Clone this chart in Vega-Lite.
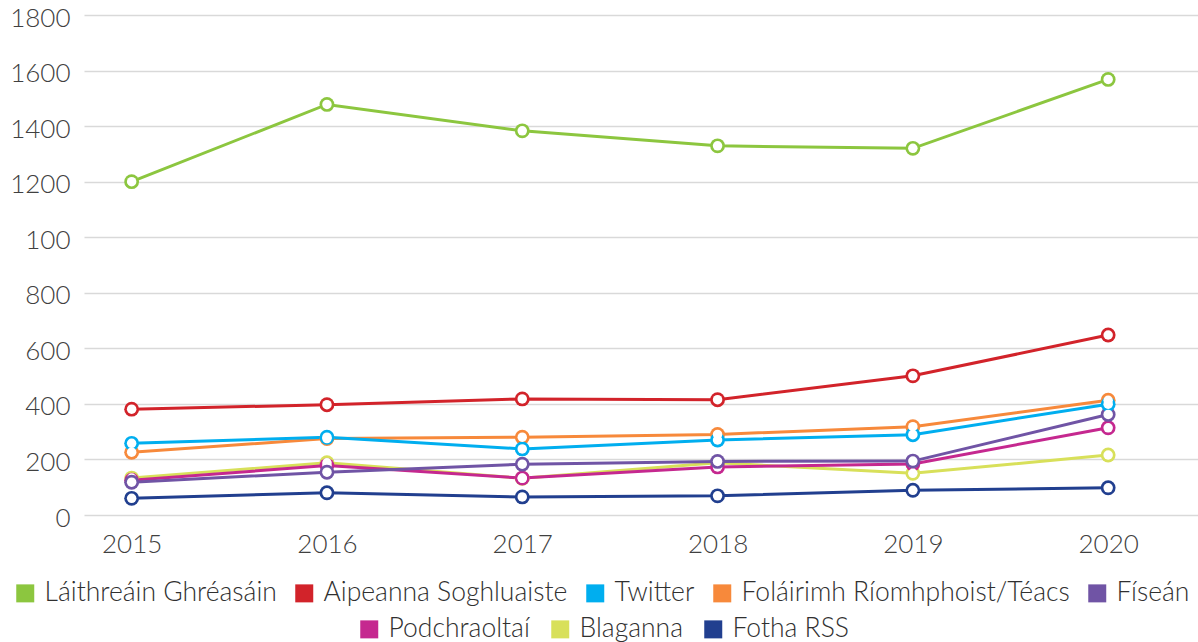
{
  "$schema": "https://vega.github.io/schema/vega-lite/v6.json",
  "width": 1114,
  "height": 500,
  "autosize": {"type": "none"},
  "padding": {"left": 84, "top": 15, "right": 0, "bottom": 127},
  "background": "white",
  "config": {
    "view": {"stroke": null},
    "font": "Lato",
    "axis": {"labelFont": "Lato", "labelFontWeight": 300, "labelColor": "#404040", "labelFontSize": 26, "domain": false, "ticks": false, "title": null},
    "legend": {"labelFont": "Lato", "labelFontWeight": 300, "labelColor": "#303030", "labelFontSize": 26.5, "labelLimit": 0, "symbolType": "square", "symbolSize": 324, "symbolStrokeWidth": 0, "labelOffset": 6, "columnPadding": 14, "title": null}
  },
  "data": {
    "values": [
      {"series": "Fotha RSS", "year": 2015, "value": 60},
      {"series": "Fotha RSS", "year": 2016, "value": 80},
      {"series": "Fotha RSS", "year": 2017, "value": 65},
      {"series": "Fotha RSS", "year": 2018, "value": 69},
      {"series": "Fotha RSS", "year": 2019, "value": 89},
      {"series": "Fotha RSS", "year": 2020, "value": 98},
      {"series": "Blaganna", "year": 2015, "value": 133},
      {"series": "Blaganna", "year": 2016, "value": 188},
      {"series": "Blaganna", "year": 2017, "value": 132},
      {"series": "Blaganna", "year": 2018, "value": 188},
      {"series": "Blaganna", "year": 2019, "value": 150},
      {"series": "Blaganna", "year": 2020, "value": 216},
      {"series": "Podchraoltaí", "year": 2015, "value": 125},
      {"series": "Podchraoltaí", "year": 2016, "value": 178},
      {"series": "Podchraoltaí", "year": 2017, "value": 133},
      {"series": "Podchraoltaí", "year": 2018, "value": 173},
      {"series": "Podchraoltaí", "year": 2019, "value": 184},
      {"series": "Podchraoltaí", "year": 2020, "value": 314},
      {"series": "Físeán", "year": 2015, "value": 118},
      {"series": "Físeán", "year": 2016, "value": 154},
      {"series": "Físeán", "year": 2017, "value": 183},
      {"series": "Físeán", "year": 2018, "value": 193},
      {"series": "Físeán", "year": 2019, "value": 194},
      {"series": "Físeán", "year": 2020, "value": 362},
      {"series": "Foláirimh Ríomhphoist/Téacs", "year": 2015, "value": 226},
      {"series": "Foláirimh Ríomhphoist/Téacs", "year": 2016, "value": 275},
      {"series": "Foláirimh Ríomhphoist/Téacs", "year": 2017, "value": 280},
      {"series": "Foláirimh Ríomhphoist/Téacs", "year": 2018, "value": 290},
      {"series": "Foláirimh Ríomhphoist/Téacs", "year": 2019, "value": 318},
      {"series": "Foláirimh Ríomhphoist/Téacs", "year": 2020, "value": 413},
      {"series": "Twitter", "year": 2015, "value": 258},
      {"series": "Twitter", "year": 2016, "value": 280},
      {"series": "Twitter", "year": 2017, "value": 238},
      {"series": "Twitter", "year": 2018, "value": 270},
      {"series": "Twitter", "year": 2019, "value": 289},
      {"series": "Twitter", "year": 2020, "value": 399},
      {"series": "Aipeanna Soghluaiste", "year": 2015, "value": 381},
      {"series": "Aipeanna Soghluaiste", "year": 2016, "value": 397},
      {"series": "Aipeanna Soghluaiste", "year": 2017, "value": 418},
      {"series": "Aipeanna Soghluaiste", "year": 2018, "value": 415},
      {"series": "Aipeanna Soghluaiste", "year": 2019, "value": 501},
      {"series": "Aipeanna Soghluaiste", "year": 2020, "value": 648},
      {"series": "Láithreáin Ghréasáin", "year": 2015, "value": 1200},
      {"series": "Láithreáin Ghréasáin", "year": 2016, "value": 1478},
      {"series": "Láithreáin Ghréasáin", "year": 2017, "value": 1383},
      {"series": "Láithreáin Ghréasáin", "year": 2018, "value": 1329},
      {"series": "Láithreáin Ghréasáin", "year": 2019, "value": 1320},
      {"series": "Láithreáin Ghréasáin", "year": 2020, "value": 1568}
    ]
  },
  "encoding": {
    "x": {"field": "year", "type": "quantitative", "scale": {"domain": [2014.756, 2020.46], "nice": false, "zero": false},
      "axis": {"values": [2015, 2016, 2017, 2018, 2019, 2020], "format": "d", "grid": false, "labelPadding": 16}},
    "y": {"field": "value", "type": "quantitative", "scale": {"domain": [0, 1800], "nice": false},
      "axis": {"values": [0, 200, 400, 600, 800, 1000, 1200, 1400, 1600, 1800], "labelExpr": "datum.value == 1000 ? '100' : datum.label", "format": "d", "gridColor": "#d9d9d9", "gridWidth": 1.5, "labelPadding": 14, "labelOffset": 3}}
  },
  "layer": [
    {
      "transform": [{"filter": {"field": "series", "oneOf": ["Podchraoltaí", "Blaganna", "Fotha RSS"]}}],
      "encoding": {
        "color": {"field": "series", "type": "nominal",
          "scale": {"domain": ["Podchraoltaí", "Blaganna", "Fotha RSS"], "range": ["#C5288F", "#D8E05A", "#213F8F"]},
          "legend": {"orient": "none", "legendX": 272, "legendY": 601, "direction": "horizontal", "columns": 3, "columnPadding": 17}}
      },
      "layer": [
        {"mark": {"type": "line", "strokeWidth": 3}},
        {"mark": {"type": "point", "shape": "circle", "filled": true, "size": 220, "opacity": 1}},
        {"mark": {"type": "point", "shape": "circle", "filled": true, "size": 90, "opacity": 1}, "encoding": {"color": {"value": "white"}}}
      ]
    },
    {
      "transform": [{"filter": {"field": "series", "oneOf": ["Láithreáin Ghréasáin", "Aipeanna Soghluaiste", "Twitter", "Foláirimh Ríomhphoist/Téacs", "Físeán"]}}],
      "encoding": {
        "color": {"field": "series", "type": "nominal",
          "scale": {"domain": ["Láithreáin Ghréasáin", "Aipeanna Soghluaiste", "Twitter", "Foláirimh Ríomhphoist/Téacs", "Físeán"], "range": ["#8CC63F", "#D2232A", "#00AEEF", "#F7893B", "#7054A5"]},
          "legend": {"orient": "none", "legendX": -72, "legendY": 565, "direction": "horizontal", "columns": 5}}
      },
      "layer": [
        {"mark": {"type": "line", "strokeWidth": 3}},
        {"mark": {"type": "point", "shape": "circle", "filled": true, "size": 220, "opacity": 1}},
        {"mark": {"type": "point", "shape": "circle", "filled": true, "size": 90, "opacity": 1}, "encoding": {"color": {"value": "white"}}}
      ]
    }
  ],
  "resolve": {"scale": {"color": "independent"}, "legend": {"color": "independent"}}
}
